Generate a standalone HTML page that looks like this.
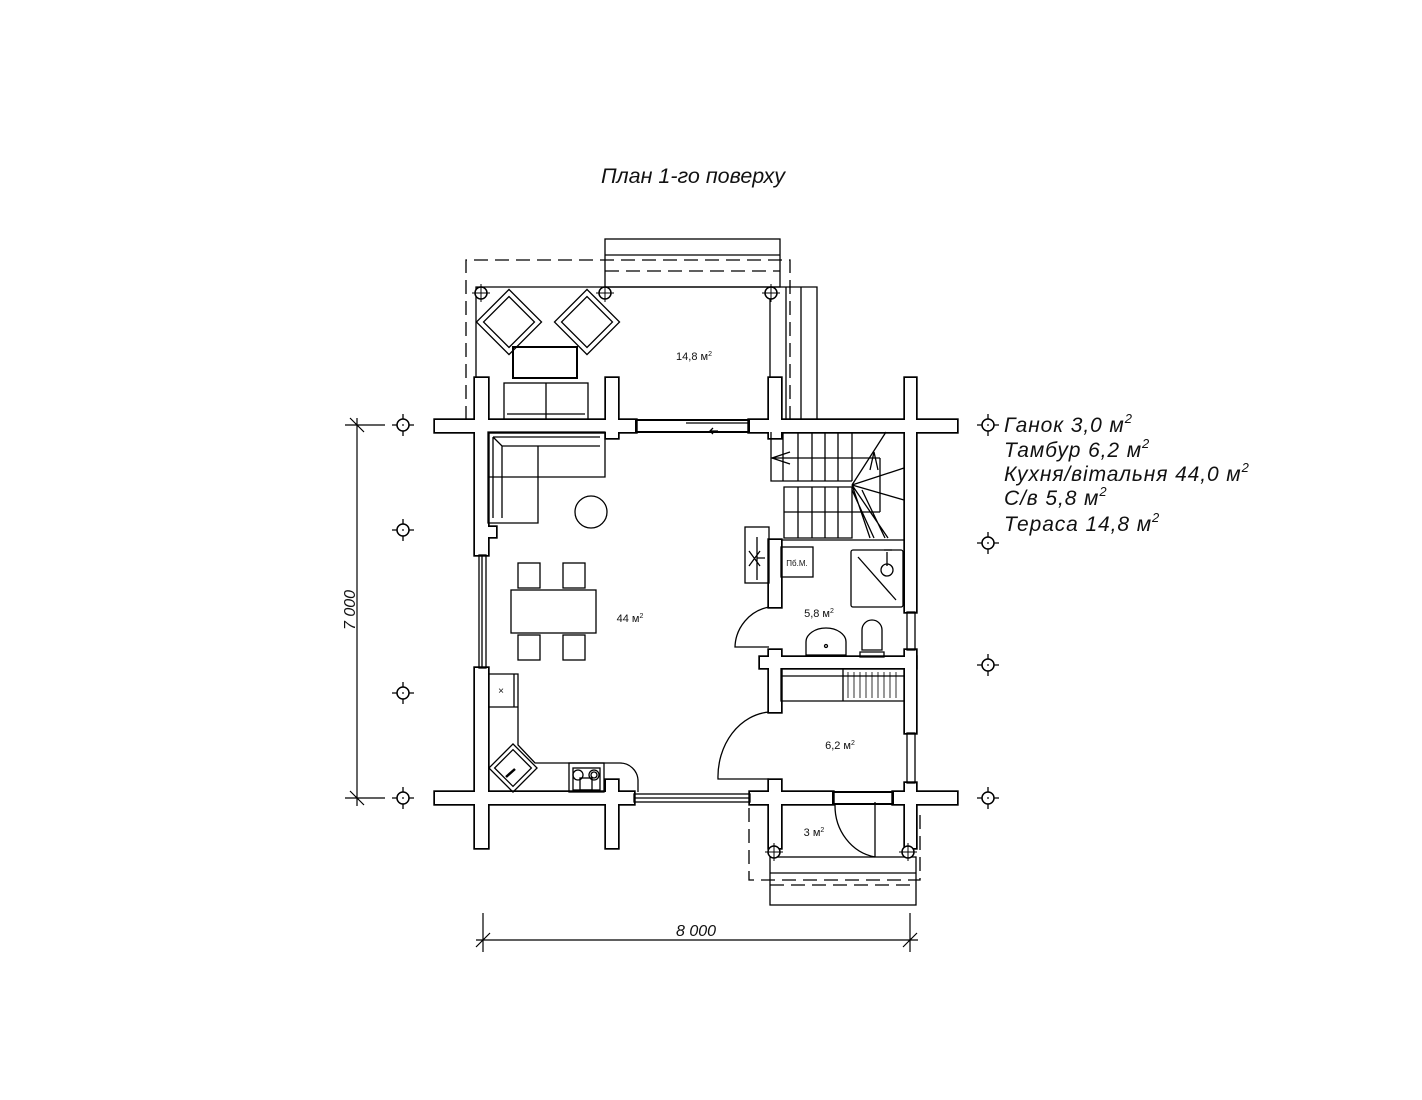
<!DOCTYPE html>
<html><head><meta charset="utf-8"><style>
html,body{margin:0;padding:0;background:#fff}
svg{display:block}
text{font-family:"Liberation Sans",sans-serif;fill:#111}
</style></head><body>
<svg width="1422" height="1100" viewBox="0 0 1422 1100" xmlns="http://www.w3.org/2000/svg">
<defs>
<g id="mk"><circle r="6" fill="#fff" stroke="#000" stroke-width="1.5"/><circle r="0.9" fill="#000"/><path d="M-11 0H-6M6 0H11M0 -11V-6M0 6V11" stroke="#000" stroke-width="1.3"/></g>
<g id="col"><circle r="6" fill="#fff" stroke="#000" stroke-width="1.5"/><path d="M-9 0H9M0 -9V9" stroke="#000" stroke-width="1"/></g>
</defs>
<text x="693" y="183" font-size="21.5" font-style="italic" text-anchor="middle">План 1-го поверху</text>

<g fill="none" stroke="#000" stroke-width="1.3">
<path d="M466 420V260H790V420" stroke-dasharray="14 7"/>
<rect x="605" y="239" width="175" height="48"/>
<line x1="605" y1="255" x2="780" y2="255"/>
<line x1="605" y1="271" x2="780" y2="271" stroke-dasharray="14 7"/>
<path d="M476 420V287H770V420"/>
<path d="M770 287H817V420M786 287V420M801 287V420"/>
<g transform="translate(509,322) rotate(45)"><rect x="-18" y="-18" width="36" height="36"/><rect x="-23" y="-23" width="46" height="46"/></g>
<g transform="translate(587,322) rotate(45)"><rect x="-18" y="-18" width="36" height="36"/><rect x="-23" y="-23" width="46" height="46"/></g>
<rect x="513" y="347" width="64" height="31" stroke-width="2"/>
<rect x="504" y="383" width="84" height="37"/><line x1="546" y1="383" x2="546" y2="420"/><line x1="507" y1="414" x2="585" y2="414"/>
<path d="M749 808V880H920V808" stroke-dasharray="14 7"/>
<rect x="770" y="857" width="146" height="48"/>
<line x1="770" y1="873" x2="916" y2="873"/>
<line x1="770" y1="885" x2="916" y2="885" stroke-dasharray="14 7"/>
<path d="M875 857V802M835 805A48 52 0 0 0 875 857"/>
</g>

<g stroke="#000" stroke-width="3.4" fill="#000">
<rect x="435" y="420" width="201" height="12"/>
<rect x="749" y="420" width="208" height="12"/>
<rect x="435" y="792" width="199" height="12"/>
<rect x="750" y="792" width="83" height="12"/>
<rect x="893" y="792" width="64" height="12"/>
<rect x="475" y="378" width="13" height="177"/>
<rect x="475" y="668" width="13" height="180"/>
<rect x="606" y="378" width="12" height="60"/>
<rect x="606" y="780" width="12" height="68"/>
<rect x="769" y="378" width="12" height="60"/>
<rect x="769" y="540" width="12" height="67"/>
<rect x="769" y="650" width="12" height="62"/>
<rect x="769" y="780" width="12" height="68"/>
<rect x="905" y="378" width="11" height="234"/>
<rect x="905" y="650" width="11" height="83"/>
<rect x="905" y="783" width="11" height="65"/>
<rect x="760" y="657" width="156" height="11"/>
<rect x="488" y="527" width="8" height="10"/>
</g>
<g fill="#fff">
<rect x="435" y="420" width="201" height="12"/>
<rect x="749" y="420" width="208" height="12"/>
<rect x="435" y="792" width="199" height="12"/>
<rect x="750" y="792" width="83" height="12"/>
<rect x="893" y="792" width="64" height="12"/>
<rect x="475" y="378" width="13" height="177"/>
<rect x="475" y="668" width="13" height="180"/>
<rect x="606" y="378" width="12" height="60"/>
<rect x="606" y="780" width="12" height="68"/>
<rect x="769" y="378" width="12" height="60"/>
<rect x="769" y="540" width="12" height="67"/>
<rect x="769" y="650" width="12" height="62"/>
<rect x="769" y="780" width="12" height="68"/>
<rect x="905" y="378" width="11" height="234"/>
<rect x="905" y="650" width="11" height="83"/>
<rect x="905" y="783" width="11" height="65"/>
<rect x="760" y="657" width="156" height="11"/>
<rect x="488" y="527" width="8" height="10"/>
</g>

<g fill="none" stroke="#000" stroke-width="1.3">
<rect x="636" y="420" width="113" height="12" stroke-width="2"/><line x1="686" y1="423" x2="749" y2="423"/><path d="M710 431h8M713 428l-3 3 3 3"/>
<rect x="634" y="794" width="116" height="8"/><line x1="634" y1="798" x2="750" y2="798"/>
<rect x="833" y="792" width="60" height="12" stroke-width="2"/>
<rect x="479" y="555" width="7" height="113"/><line x1="482" y1="555" x2="482" y2="668"/>
<rect x="907" y="612" width="8" height="38"/><rect x="907" y="733" width="8" height="50"/>
<path d="M769 607A42 42 0 0 0 735 647H769"/>
<path d="M769 712A55 65 0 0 0 718 779H769"/>
<path d="M488 432H605V477H538V523H488Z"/><path d="M493 437H600M493 437V518M493 437L502 446H600M502 446V518M488 477H538M538 446V477"/>
<circle cx="591" cy="512" r="16"/>
<rect x="511" y="590" width="85" height="43"/>
<rect x="518" y="563" width="22" height="25"/><rect x="563" y="563" width="22" height="25"/>
<rect x="518" y="635" width="22" height="25"/><rect x="563" y="635" width="22" height="25"/>
<path d="M488 674H518V745L535 763H620A18 18 0 0 1 638 780V792"/><path d="M488 707H518"/><path d="M514 674V707"/>
<g transform="translate(513,768) rotate(45)"><rect x="-17" y="-17" width="34" height="34"/><rect x="-13" y="-13" width="26" height="26"/></g>
<path d="M506 777L515 769" stroke-width="2.5"/>
<rect x="569" y="763" width="35" height="29"/><rect x="573" y="768" width="27" height="22"/>
<circle cx="578" cy="775" r="5"/><circle cx="594" cy="775" r="5"/><circle cx="594" cy="775" r="3"/>
<rect x="580" y="778" width="12" height="12"/>
<text x="501" y="694" font-size="10" stroke="none" text-anchor="middle">×</text>
<path d="M771 432V481H852M771 458H880M783 432V481M798 432V481M812 432V481M825 432V481M838 432V481M852 432V481"/>
<path d="M784 487H852V538H784ZM784 512H852M798 487V538M812 487V538M825 487V538M838 487V538"/>
<path d="M781 540H905"/>
<path d="M852 485L886 432M852 485L904 468M852 485L904 500M852 485L888 538M852 485L870 538M880 458V512M852 512H880M862 490L885 538M852 490L874 538"/>
<path d="M772 458L790 452M772 458L790 464M878 470L874 452L870 470"/>
<rect x="745" y="527" width="24" height="56"/><path d="M757 537V580M757 558H765M749 551L760 566M749 566L760 551"/>
<rect x="781" y="547" width="32" height="30"/><text x="797" y="566" font-size="8" stroke="none" text-anchor="middle">Пб.М.</text>
<rect x="851" y="550" width="52" height="57" rx="2"/><path d="M858 557L896 600"/><circle cx="887" cy="570" r="6"/><path d="M887 552V566M884 550h8"/>
<path d="M806 655V642A20 14 0 0 1 846 642V655Z"/><circle cx="826" cy="646" r="1.5"/>
<path d="M862 650V630A10 10 0 0 1 882 630V650ZM860 652H884V657H860Z"/>
<path d="M781 668V701H905M781 676H905M843 668V701"/>
<path d="M848 672V698M854 672V698M860 672V698M866 672V698M872 672V698M878 672V698M884 672V698M890 672V698M896 672V698" stroke-width="0.8"/>
</g>

<use href="#col" x="481" y="293"/><use href="#col" x="605" y="293"/><use href="#col" x="771" y="293"/>
<use href="#col" x="774" y="852"/><use href="#col" x="908" y="852"/>

<g font-size="11" text-anchor="middle">
<text x="694" y="360">14,8 м<tspan font-size="7" dy="-4">2</tspan></text>
<text x="630" y="622">44 м<tspan font-size="7" dy="-4">2</tspan></text>
<text x="819" y="617">5,8 м<tspan font-size="7" dy="-4">2</tspan></text>
<text x="840" y="749">6,2 м<tspan font-size="7" dy="-4">2</tspan></text>
<text x="814" y="836">3 м<tspan font-size="7" dy="-4">2</tspan></text>
</g>

<use href="#mk" x="403" y="425"/><use href="#mk" x="403" y="530"/><use href="#mk" x="403" y="693"/><use href="#mk" x="403" y="798"/>
<use href="#mk" x="988" y="425"/><use href="#mk" x="988" y="543"/><use href="#mk" x="988" y="665"/><use href="#mk" x="988" y="798"/>

<g stroke="#000" stroke-width="1.2">
<path d="M357 418V806M345 425H385M345 798H385M350 418L364 432M350 791L364 805"/>
<path d="M476 940H918M483 913V952M910 913V952M476 947L490 933M903 947L917 933"/>
</g>
<text x="696" y="936" font-size="16" font-style="italic" text-anchor="middle">8 000</text>
<text transform="translate(355,610) rotate(-90)" font-size="16" font-style="italic" text-anchor="middle">7 000</text>

<g font-size="21" font-style="italic" letter-spacing="0.9">
<text x="1004" y="432">Ганок 3,0 м<tspan font-size="13" dy="-9">2</tspan></text>
<text x="1004" y="457">Тамбур 6,2 м<tspan font-size="13" dy="-9">2</tspan></text>
<text x="1004" y="481">Кухня/вітальня 44,0 м<tspan font-size="13" dy="-9">2</tspan></text>
<text x="1004" y="505">С/в 5,8 м<tspan font-size="13" dy="-9">2</tspan></text>
<text x="1004" y="531">Тераса 14,8 м<tspan font-size="13" dy="-9">2</tspan></text>
</g>
</svg>
</body></html>
